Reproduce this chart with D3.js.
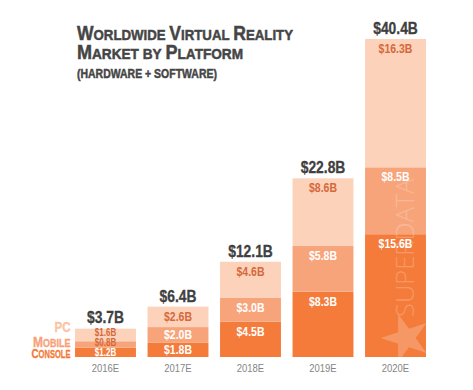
<!DOCTYPE html>
<html><head><meta charset="utf-8">
<script src="https://cdn.jsdelivr.net/npm/d3@7"></script>
<style>
body{margin:0;background:#fff;}
svg{display:block;}
text{font-family:"Liberation Sans",Arial,sans-serif;}
</style></head><body>
<script>
const years = ["2016E","2017E","2018E","2019E","2020E"];
const consoleVals = [1.2, 1.8, 4.5, 8.3, 15.6];
const mobileVals  = [0.8, 2.0, 3.0, 5.8, 8.5];
const pcVals      = [1.6, 2.6, 4.6, 8.6, 16.3];
const totals      = [3.7, 6.4, 12.1, 22.8, 40.4];
const seriesNames = ["console","mobile","pc"];
const legendNames = ["PC","Mobile","Console"];
const titleText = ["Worldwide Virtual Reality","Market by Platform","(hardware + software)"];

const W = 473, H = 390;
const colors = {console:"#F47B3A", mobile:"#F7A47B", pc:"#FCD2BB"};

const svg = d3.select("body").append("svg").attr("width",W).attr("height",H);

const x = d3.scaleBand().domain(years).range([69.25,431.75]).paddingInner(0.16).paddingOuter(0.08);
const y = d3.scaleLinear().domain([0,40.4]).range([357,39]);

const rows = years.map((yr,i)=>({year:yr, console:consoleVals[i], mobile:mobileVals[i], pc:pcVals[i], total:totals[i]}));
const stack = d3.stack().keys(seriesNames)(rows);

function ctext(parent, px, py, sx){
  return parent.append("text").attr("transform",`translate(${px},${py}) scale(${sx},1)`);
}

const g = svg.append("g");
stack.forEach(layer=>{
  const key = layer.key;
  g.selectAll(null).data(layer).join("rect")
    .attr("x",d=>x(d.data.year))
    .attr("y",d=>y(d[1]))
    .attr("width",x.bandwidth())
    .attr("height",d=>y(d[0])-y(d[1]))
    .attr("fill",colors[key]);
});

// watermark in last bar
const last = years[years.length-1];
const wx = x(last) + x.bandwidth()*0.68;
const wm = svg.append("g").attr("opacity",0.22);
wm.append("text")
  .attr("transform",`translate(${wx+8},317) rotate(-90)`)
  .style("font-family","'Open Sans','Liberation Sans',sans-serif")
  .attr("font-weight",300)
  .attr("font-size",25.5)
  .attr("fill","#fff")
  .text("SUPERDATA");
wm.append("path")
  .attr("d",d3.symbol(d3.symbolStar, 720)())
  .attr("transform",`translate(${wx-0.5},338) rotate(-90)`)
  .attr("fill","#fff");

// segment labels
stack.forEach(layer=>{
  const key = layer.key;
  layer.forEach(d=>{
    const top=y(d[1]), bot=y(d[0]), h=bot-top;
    const small = d.data.year===years[0];
    let cy = h<18 ? (top+bot)/2 : top+9.5;
    if (small) cy = key==="pc" ? top+4 : key==="mobile" ? top+1 : (top+bot)/2;
    const fill = key==="pc" || (small && key==="mobile") ? "#D5683A" : "#ffffff";
    ctext(g, x(d.data.year)+x.bandwidth()/2, cy, small?0.8:0.84)
      .attr("dy","0.36em")
      .attr("text-anchor","middle")
      .attr("font-weight","bold")
      .attr("font-size", small?10:12.5)
      .attr("fill",fill)
      .text("$"+(d[1]-d[0]).toFixed(1)+"B");
  });
});

// totals
rows.forEach(d=>{
  ctext(g, x(d.year)+x.bandwidth()/2, y(d.total)-5, 0.84)
    .attr("text-anchor","middle")
    .attr("font-weight","bold")
    .attr("font-size",16.5)
    .attr("fill","#3f3f3f")
    .attr("stroke","#3f3f3f").attr("stroke-width",0.3)
    .text("$"+d.total.toFixed(1)+"B");
});

// x axis labels
const xAxis = d3.axisBottom(x).tickSize(0).tickPadding(8);
const ax = svg.append("g").attr("transform","translate(0,357)").call(xAxis);
ax.select(".domain").remove();
ax.selectAll("text").attr("font-size",10.5).attr("fill","#858585")
  .attr("transform","scale(0.9,1)")
  .style("font-family","'Liberation Sans',Arial,sans-serif");

// small caps helper
function smallCaps(sel, str, big, small){
  str.split(/(\s+)/).forEach(word=>{
    if(!word) return;
    if(/^\s+$/.test(word)){ sel.append("tspan").attr("font-size",small).text(" "); return; }
    const f = word[0], rest = word.slice(1);
    const bigFirst = f === f.toUpperCase() && /[A-Za-z]/.test(f);
    sel.append("tspan").attr("font-size", bigFirst?big:small).text(f.toUpperCase());
    if(rest) sel.append("tspan").attr("font-size",small).text(rest.toUpperCase());
  });
}
// fit to a given width by horizontal scaling; anchor: "start" or "end"
function fitWidth(t, px, py, len, anchor){
  const w = t.node().getComputedTextLength();
  const sx = len / w;
  t.attr("transform",`translate(${px},${py}) scale(${sx},1)`);
}

// legend
const legendStyle = [
  {y:331.5, big:14.5, small:14.5, color:"#FBC3A5", len:16},
  {y:346.5, big:14, small:10.5, color:"#F8A179", len:37.5},
  {y:357.5, big:13, small:10, color:"#F27A38", len:39}
];
legendNames.forEach((name,i)=>{
  const l = legendStyle[i];
  const t = svg.append("text").attr("text-anchor","end")
    .attr("font-weight","bold").attr("fill",l.color)
    .attr("stroke",l.color).attr("stroke-width",0.3);
  smallCaps(t, name, l.big, l.small);
  fitWidth(t, 70.5, l.y, l.len);
});

// title
const titleStyle = [
  {y:39.5, big:20.5, small:15.5, len:216},
  {y:58.5, big:20.5, small:15.5, len:166},
  {y:78, big:13.5, small:13.5, len:140}
];
titleText.forEach((txt,i)=>{
  const l = titleStyle[i];
  const t = svg.append("text")
    .attr("font-weight","bold").attr("fill","#454545")
    .attr("stroke","#454545").attr("stroke-width",0.5);
  smallCaps(t, txt, l.big, l.small);
  fitWidth(t, 77, l.y, l.len);
});
</script>
</body></html>
